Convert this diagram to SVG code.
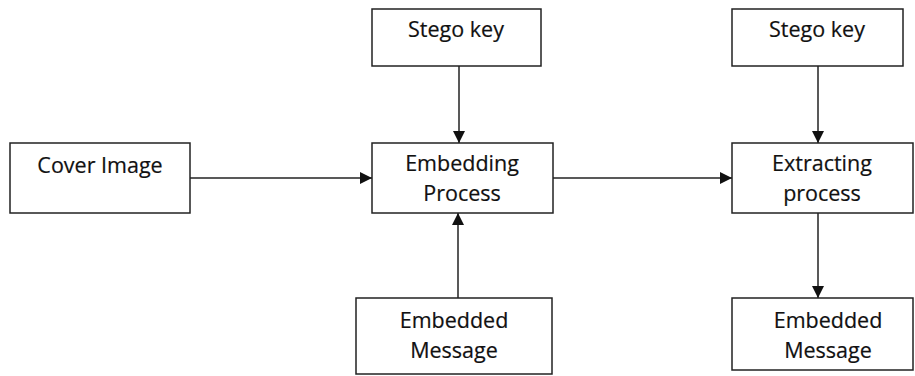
<svg xmlns="http://www.w3.org/2000/svg" width="915" height="376" viewBox="0 0 915 376">
  <style>
    .box { fill: #fff; stroke: #222; stroke-width: 1.5; }
    .lbl { font-family: "Open Sans", "Liberation Sans", sans-serif; font-size: 21.5px; fill: #111; text-anchor: middle; stroke: #111; stroke-width: 0.2; }
    .edge { stroke: #222; stroke-width: 1.5; fill: none; marker-end: url(#arrow); }
  </style>
  <defs>
    <marker id="arrow" viewBox="0 0 12 12" refX="12" refY="6" markerWidth="12" markerHeight="12" markerUnits="userSpaceOnUse" orient="auto">
      <path d="M0,0 L12,6 L0,12 Z" fill="#111"/>
    </marker>
  </defs>
  <rect width="915" height="376" fill="#fff"/>

  <g id="connectors">
    <line class="edge" x1="190" y1="178" x2="372" y2="178"/>
    <line class="edge" x1="459" y1="66" x2="459" y2="143"/>
    <line class="edge" x1="458" y1="298" x2="458" y2="213"/>
    <line class="edge" x1="553" y1="178" x2="732" y2="178"/>
    <line class="edge" x1="818" y1="66" x2="818" y2="143"/>
    <line class="edge" x1="818" y1="213" x2="818" y2="298"/>
  </g>

  <g id="cover-image">
    <rect class="box" x="10" y="143" width="180" height="70"/>
    <text class="lbl" x="100" y="173">Cover Image</text>
  </g>

  <g id="stego-key-1">
    <rect class="box" x="372" y="9" width="169" height="57"/>
    <text class="lbl" x="456" y="37">Stego key</text>
  </g>

  <g id="embedding-process">
    <rect class="box" x="372" y="143" width="181" height="70"/>
    <text class="lbl" x="462" y="171">Embedding</text>
    <text class="lbl" x="462" y="201">Process</text>
  </g>

  <g id="embedded-message-1">
    <rect class="box" x="356" y="298" width="196" height="76"/>
    <text class="lbl" x="454" y="328">Embedded</text>
    <text class="lbl" x="454" y="358">Message</text>
  </g>

  <g id="stego-key-2">
    <rect class="box" x="732" y="9" width="171" height="57"/>
    <text class="lbl" x="817" y="37">Stego key</text>
  </g>

  <g id="extracting-process">
    <rect class="box" x="732" y="143" width="181" height="70"/>
    <text class="lbl" x="822" y="171">Extracting</text>
    <text class="lbl" x="822" y="201">process</text>
  </g>

  <g id="embedded-message-2">
    <rect class="box" x="732" y="298" width="181" height="72"/>
    <text class="lbl" x="828" y="328">Embedded</text>
    <text class="lbl" x="828" y="358">Message</text>
  </g>
</svg>
